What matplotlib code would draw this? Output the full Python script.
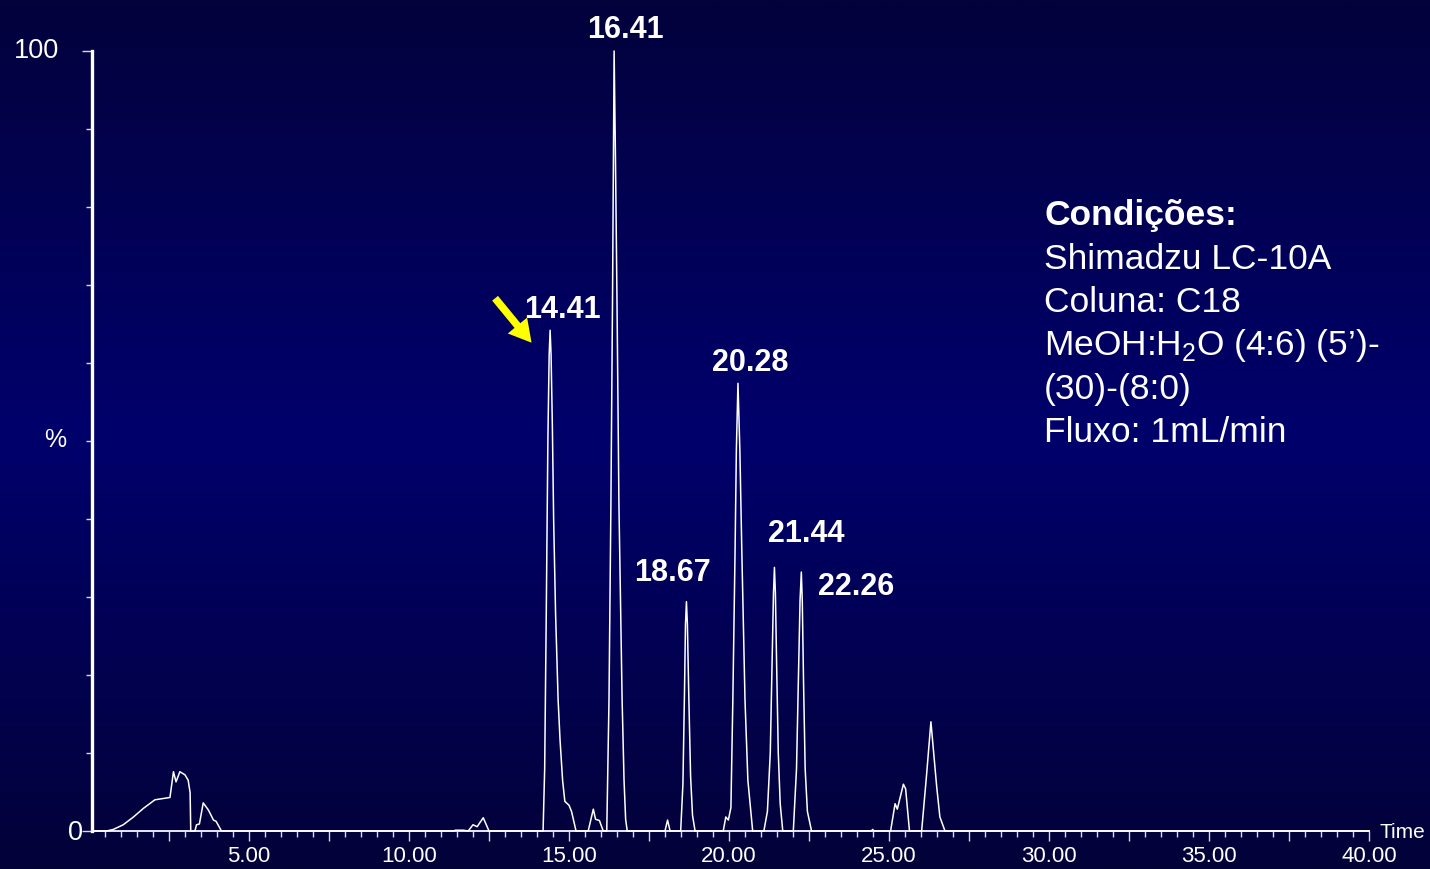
import numpy as np
import matplotlib
matplotlib.use("Agg")
import matplotlib.pyplot as plt
from matplotlib.colors import LinearSegmentedColormap

plt.rcParams['font.family'] = ['Liberation Sans', 'DejaVu Sans']
plt.rcParams['mathtext.fontset'] = 'custom'
plt.rcParams['mathtext.rm'] = 'Liberation Sans'

# ---------------- data ----------------
time_min = [0.10, 0.55, 0.76, 1.07, 1.39, 1.70, 2.06, 2.53, 2.64, 2.72, 2.84, 3.00, 3.10, 3.16, 3.18,
            3.31, 3.36, 3.45, 3.57, 3.73, 3.89, 3.97, 4.14,
            11.39, 11.45, 11.70, 11.85, 12.00, 12.13, 12.32, 12.50,
            14.19, 14.24, 14.29, 14.34, 14.38, 14.41, 14.44, 14.48, 14.52, 14.58, 14.66, 14.72,
            14.80, 14.87, 15.00, 15.08, 15.22,
            15.60, 15.76, 15.83, 15.95, 16.07,
            16.18, 16.25, 16.31, 16.36, 16.39, 16.41, 16.45, 16.50, 16.56, 16.66, 16.72, 16.77, 16.82,
            18.00, 18.08, 18.16,
            18.49, 18.56, 18.61, 18.64, 18.67, 18.70, 18.74, 18.80, 18.86, 18.94,
            19.82, 19.90, 19.98, 20.06, 20.12, 20.19, 20.23, 20.28, 20.34, 20.40, 20.50, 20.59, 20.74,
            21.09, 21.20, 21.29, 21.35, 21.39, 21.42, 21.45, 21.49, 21.54, 21.60, 21.68,
            22.01, 22.11, 22.17, 22.22, 22.26, 22.29, 22.33, 22.38, 22.45, 22.58,
            24.45, 24.49, 24.53,
            25.05, 25.19, 25.26, 25.45, 25.52, 25.64,
            26.02, 26.17, 26.31, 26.38, 26.49, 26.59, 26.75,
            40.00]
intensity = [0.0, 0.0, 0.2, 0.8, 1.8, 2.9, 4.0, 4.3, 7.6, 6.3, 7.6, 7.2, 6.5, 4.9, 0.0,
             0.0, 0.8, 0.9, 3.6, 2.7, 1.4, 1.25, 0.0,
             0.0, 0.1, 0.1, 0.0, 0.8, 0.55, 1.7, 0.0,
             0.0, 8.0, 28.0, 50.0, 61.0, 64.2, 61.0, 52.0, 40.0, 28.0, 16.8, 11.7,
             6.5, 3.8, 3.3, 2.5, 0.0,
             0.0, 2.8, 1.5, 1.35, 0.0,
             0.0, 16.8, 42.0, 68.0, 87.0, 100.0, 87.0, 68.0, 42.0, 16.8, 6.5, 1.5, 0.0,
             0.0, 1.4, 0.0,
             0.0, 6.0, 18.0, 26.5, 29.4, 26.5, 18.0, 7.0, 2.0, 0.0,
             0.0, 1.8, 1.4, 3.0, 16.8, 36.0, 48.8, 57.4, 48.8, 36.0, 16.8, 6.5, 0.0,
             0.0, 2.5, 10.0, 22.0, 30.5, 33.8, 30.5, 21.0, 10.0, 3.5, 0.0,
             0.0, 8.0, 20.0, 29.5, 33.2, 29.5, 19.0, 8.0, 2.5, 0.0,
             0.0, 0.2, 0.0,
             0.0, 3.5, 2.8, 6.0, 5.4, 0.0,
             0.0, 7.0, 14.0, 10.8, 5.7, 1.8, 0.0,
             0.0]

peak_labels = ["16.41", "14.41", "20.28", "18.67", "21.44", "22.26"]
x_tick_values = [5, 10, 15, 20, 25, 30, 35, 40]
x_tick_labels = ["5.00", "10.00", "15.00", "20.00", "25.00", "30.00", "35.00", "40.00"]
y_tick_values = [0, 100]
y_tick_labels = ["0", "100"]
conditions = ["Shimadzu LC-10A", "Coluna: C18",
              "MeOH:H$_{\\mathregular{2}}$O (4:6) (5\u2019)-", "(30)-(8:0)",
              "Fluxo: 1mL/min"]

# ---------------- figure ----------------
W, H = 1430, 869
fig = plt.figure(figsize=(W / 100, H / 100), dpi=100)

# background gradient (dark top, brighter middle, dark bottom)
bg = fig.add_axes([0, 0, 1, 1], zorder=-10)
cmap = LinearSegmentedColormap.from_list(
    "bg", [(0.0, "#03023c"), (0.5, "#00006c"), (1.0, "#030238")])
grad = np.linspace(0, 1, 512).reshape(-1, 1)
bg.imshow(grad, aspect='auto', cmap=cmap, extent=[0, 1, 0, 1], origin='upper')
bg.set_axis_off()

def px(x, y):
    return x / W, 1 - y / H

x0, x1 = 92, 1369
y0, y1 = 831, 51
ax = fig.add_axes([x0 / W, 1 - y0 / H, (x1 - x0) / W, (y0 - y1) / H])
ax.set_facecolor('none')
ax.set_xlim(0.094, 40.0)
ax.set_ylim(0, 100)

ax.plot(time_min, intensity, color='white', lw=1.1, clip_on=False, zorder=3)

for s in ['top', 'right']:
    ax.spines[s].set_visible(False)
ax.spines['left'].set_color('white')
ax.spines['left'].set_linewidth(2.4)
ax.spines['bottom'].set_color('#e8e8f0')
ax.spines['bottom'].set_linewidth(1.4)

# x ticks
major = np.arange(2.5, 40.01, 2.5)
ax.set_xticks(major)
ax.set_xticks(np.arange(0.5, 40.01, 0.5), minor=True)
ax.set_xticklabels([x_tick_labels[x_tick_values.index(int(v))] if (v % 5 == 0) else ""
                    for v in major])
ax.tick_params(axis='x', which='major', direction='out', length=7, width=1.0,
               colors='#d8d8e8', labelcolor='white', labelsize=16, pad=4)
ax.tick_params(axis='x', which='minor', direction='out', length=4, width=1.0,
               colors='#d8d8e8')

# y ticks (labels placed manually as in the reference)
ax.set_yticks(y_tick_values)
ax.set_yticklabels(["", ""])
ax.set_yticks(np.arange(10, 100, 10), minor=True)
ax.tick_params(axis='y', which='major', direction='out', length=7, width=1.0,
               colors='#d8d8e8')
ax.tick_params(axis='y', which='minor', direction='out', length=4, width=1.0,
               colors='#d8d8e8')
fig.text(*px(59, 51), y_tick_labels[1], color='white', fontsize=19.5, ha='right', va='center')
fig.text(*px(83, 833), y_tick_labels[0], color='white', fontsize=19.5, ha='right', va='center')

fig.text(*px(55, 440), "%", color='white', fontsize=18, ha='center', va='center')
fig.text(*px(1380, 832), "Time", color='white', fontsize=15, ha='left', va='center')

# peak labels
label_pos = [(16.75, 102.7), (14.78, 66.8), (20.66, 60.0), (18.22, 33.1), (22.41, 38.1), (23.97, 31.3)]
for lab, (lx, ly) in zip(peak_labels, label_pos):
    ax.text(lx, ly, lab, color='white', fontsize=22, fontweight='bold',
            ha='center', va='center', clip_on=False)

# yellow arrow
ax.annotate("", xy=(13.83, 62.6), xytext=(12.69, 68.3),
            arrowprops=dict(arrowstyle='simple,head_length=0.8,head_width=0.9,tail_width=0.27',
                            mutation_scale=20, color='#ffff00', lw=0, shrinkA=0, shrinkB=0),
            annotation_clip=False)

# conditions text
fig.text(*px(1044, 216), "Condições:", color='white', fontsize=25.5,
         fontweight='bold', ha='left', va='center')
for i, line in enumerate(conditions):
    fig.text(*px(1044, 259.5 + 43.2 * i), line, color='white', fontsize=25.5,
             ha='left', va='center')

fig.savefig("out.png", dpi=100)
